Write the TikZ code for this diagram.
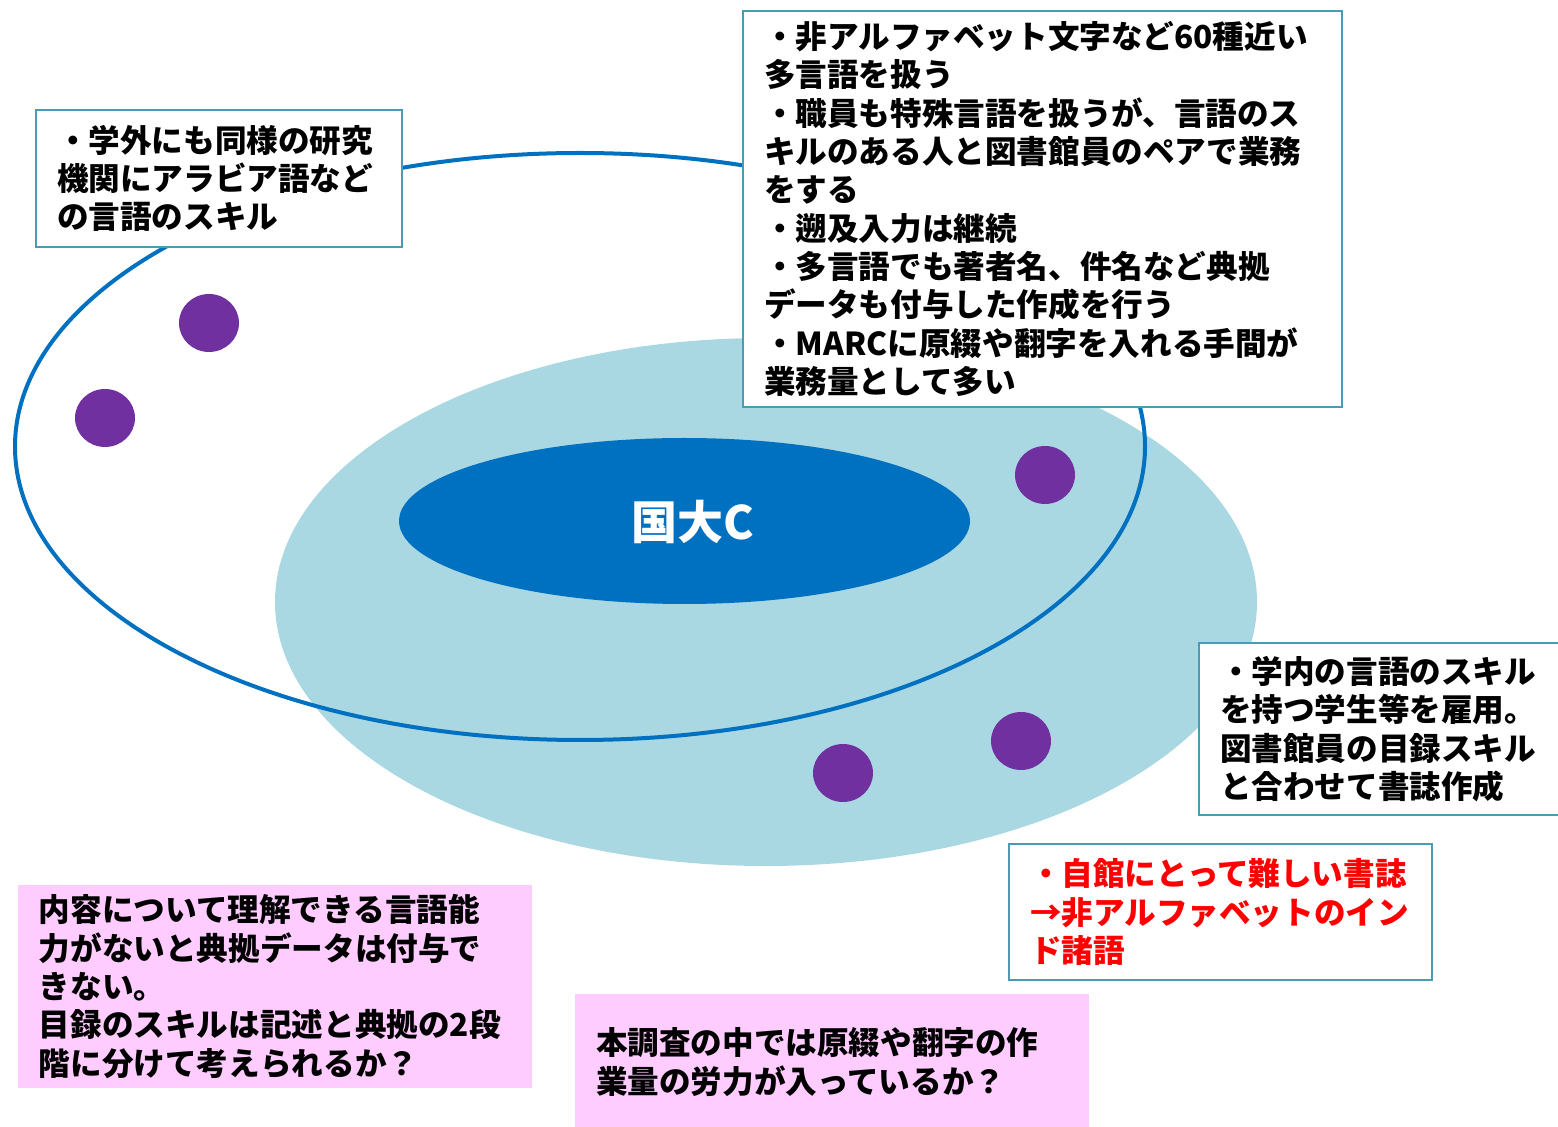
\documentclass[tikz,border=0pt]{standalone}
\usepackage{fontspec}
\setmainfont{Noto Sans CJK JP}
\usetikzlibrary{shapes.geometric}
\definecolor{lblue}{RGB}{170,216,226}
\definecolor{dblue}{RGB}{0,112,192}
\definecolor{purp}{RGB}{112,48,160}
\definecolor{tealb}{RGB}{75,155,180}
\definecolor{pinkb}{RGB}{255,204,255}
\definecolor{redt}{RGB}{255,0,0}
\newcommand{\boxfont}{\fontsize{15.8pt}{19.15pt}\selectfont\bfseries}
\begin{document}
\begin{tikzpicture}[x=0.5pt,y=-0.5pt,
  ell/.style={ellipse, inner sep=0pt, outer sep=0pt},
  dot/.style={ellipse, fill=purp, minimum width=30pt, minimum height=29pt, inner sep=0pt},
  tbox/.style={rectangle, anchor=north west, outer sep=0pt, inner xsep=10.5pt, inner ysep=0pt,
    align=left, font=\boxfont},
  framed/.style={tbox, draw=tealb, line width=1.2pt, fill=white},
  pinkbox/.style={tbox, fill=pinkb}
]
\useasboundingbox (0,0) rectangle (1558,1127);

% ellipses
\node[ell, fill=lblue, minimum width=491pt, minimum height=264pt] (lightell) at (766,602) {};
\node[ell, fill=dblue, minimum width=285.5pt, minimum height=83pt] (darkell) at (684.5,521) {};
\node[text=white, font=\fontsize{23pt}{27pt}\selectfont\bfseries] (label) at (693,522) {国大C};
\node[ell, draw=dblue, line width=2pt, minimum width=565pt, minimum height=293.5pt] (outline) at (580,446.5) {};

% dots
\node[dot] (d1) at (209,323) {};
\node[dot] (d2) at (105,418) {};
\node[dot] (d3) at (1045,475) {};
\node[dot] (d4) at (1021,741) {};
\node[dot] (d5) at (843,773) {};

% boxes
\node[framed, text width=278.5pt, minimum height=198pt] (topbox) at (743,11) {%
・非アルファベット文字など60種近い\\
多言語を扱う\\
・職員も特殊言語を扱うが、言語のス\\
キルのある人と図書館員のペアで業務\\
をする\\
・遡及入力は継続\\
・多言語でも著者名、件名など典拠\\
データも付与した作成を行う\\
・MARCに原綴や翻字を入れる手間が\\
業務量として多い};

\node[framed, text width=162pt, minimum height=68.5pt] (leftbox) at (36,110) {%
・学外にも同様の研究\\
機関にアラビア語など\\
の言語のスキル};

\node[framed, text width=160.5pt, minimum height=86pt] (rightbox) at (1199,643) {%
・学内の言語のスキル\\
を持つ学生等を雇用。\\
図書館員の目録スキル\\
と合わせて書誌作成};

\node[framed, text width=190.5pt, minimum height=68pt, text=redt] (redbox) at (1009,844) {%
・自館にとって難しい書誌\\
→非アルファベットのイン\\
ド諸語};

\node[pinkbox, text width=236pt, minimum height=101.5pt] (pink1) at (18,885) {%
内容について理解できる言語能\\
力がないと典拠データは付与で\\
きない。\\
目録のスキルは記述と典拠の2段\\
階に分けて考えられるか？};

\node[pinkbox, text width=236pt, minimum height=68pt] (pink2) at (575,994) {%
本調査の中では原綴や翻字の作\\
業量の労力が入っているか？};
\end{tikzpicture}
\end{document}
